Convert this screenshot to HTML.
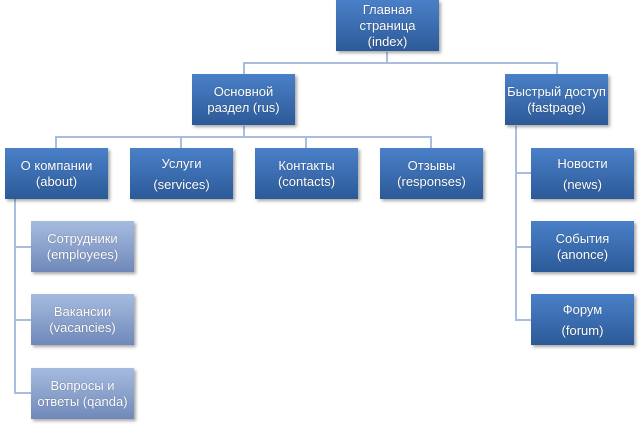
<!DOCTYPE html>
<html><head><meta charset="utf-8"><style>
body{margin:0;width:640px;height:425px;background:#fff;position:relative;overflow:hidden;font-family:"Liberation Sans","DejaVu Sans",sans-serif}
.b{position:absolute;width:103px;height:51px;display:flex;align-items:center;justify-content:center;text-align:center;color:#fff;font-size:13px;line-height:16px;background:linear-gradient(#4a80c8,#2c5a98);box-shadow:2px 2px 3px rgba(0,0,0,.35);text-shadow:0 0 1px rgba(0,0,0,.4);white-space:nowrap}
.l{background:linear-gradient(#a6bbdf,#7089ba)}
.h{position:absolute;height:2px;background:#a9bddc}
.v{position:absolute;width:2px;background:#a9bddc}
</style></head><body>
<div class="v" style="left:386px;top:52px;height:12px"></div>
<div class="h" style="left:243px;top:62px;width:315px"></div>
<div class="v" style="left:243px;top:62px;height:12px"></div>
<div class="v" style="left:556px;top:62px;height:12px"></div>
<div class="v" style="left:243px;top:126px;height:11px"></div>
<div class="h" style="left:55px;top:136px;width:377px"></div>
<div class="v" style="left:55px;top:136px;height:12px"></div>
<div class="v" style="left:180px;top:136px;height:12px"></div>
<div class="v" style="left:305px;top:136px;height:12px"></div>
<div class="v" style="left:430px;top:136px;height:12px"></div>
<div class="v" style="left:14px;top:199px;height:195px"></div>
<div class="h" style="left:14px;top:246px;width:17px"></div>
<div class="h" style="left:14px;top:319px;width:17px"></div>
<div class="h" style="left:14px;top:392px;width:17px"></div>
<div class="v" style="left:515px;top:126px;height:195px"></div>
<div class="h" style="left:515px;top:172px;width:16px"></div>
<div class="h" style="left:515px;top:246px;width:16px"></div>
<div class="h" style="left:515px;top:319px;width:16px"></div>

<div class="b" style="left:336px;top:0">Главная<br>страница<br>(index)</div>
<div class="b" style="left:192px;top:74px">Основной<br>раздел (rus)</div>
<div class="b" style="left:505px;top:74px">Быстрый доступ<br>(fastpage)</div>
<div class="b" style="left:5px;top:148px">О компании<br>(about)</div>
<div class="b" style="left:130px;top:148px;line-height:21px">Услуги<br>(services)</div>
<div class="b" style="left:255px;top:148px">Контакты<br>(contacts)</div>
<div class="b" style="left:380px;top:148px">Отзывы<br>(responses)</div>
<div class="b l" style="left:31px;top:221px">Сотрудники<br>(employees)</div>
<div class="b l" style="left:31px;top:294px">Вакансии<br>(vacancies)</div>
<div class="b l" style="left:31px;top:368px">Вопросы и<br>ответы (qanda)</div>
<div class="b" style="left:531px;top:148px;line-height:21px">Новости<br>(news)</div>
<div class="b" style="left:531px;top:221px">События<br>(anonce)</div>
<div class="b" style="left:531px;top:294px;line-height:21px">Форум<br>(forum)</div>
</body></html>
